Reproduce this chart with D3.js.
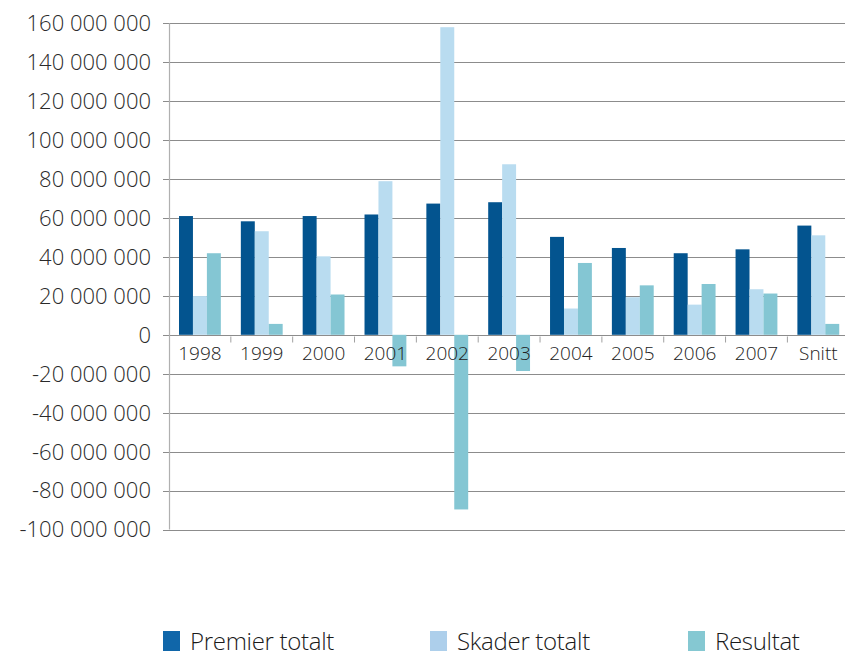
<!DOCTYPE html>
<html><head><meta charset="utf-8">
<script src="https://cdn.jsdelivr.net/npm/d3@7/dist/d3.min.js"></script>
<style>body{margin:0;background:#fff}svg{display:block}text{font-family:"Open Sans",sans-serif}</style>
</head><body><svg id="c" width="845" height="657"></svg>
<script>
const categories=["1998","1999","2000","2001","2002","2003","2004","2005","2006","2007","Snitt"];
const seriesNames=["Premier totalt","Skader totalt","Resultat"];
const premier=[61.0,58.3,61.0,61.8,67.4,68.1,50.3,44.6,41.9,43.9,56.1].map(v=>v*1e6);
const skader=[19.9,53.2,40.3,78.9,158.0,87.6,13.5,19.3,15.5,23.4,51.1].map(v=>v*1e6);
const resultat=[41.9,5.6,20.7,-16.2,-89.7,-18.6,36.9,25.4,26.1,21.2,5.6].map(v=>v*1e6);
const yTicks=[160e6,140e6,120e6,100e6,80e6,60e6,40e6,20e6,0,-20e6,-40e6,-60e6,-80e6,-100e6];
const barColors=["#03548F","#B9DCF0","#84C6D3"];
const legendColors=["#1066A9","#ADCFEB","#85C8D2"];

const svg=d3.select("#c");
const plotLeft=169, plotTop=23.3, plotBottom=529.5, bandW=61.84;
const y=d3.scaleLinear().domain([-100e6,160e6]).range([plotBottom,plotTop]);
const x0=d3.scaleBand().domain(categories).range([plotLeft,plotLeft+bandW*categories.length]).paddingInner(0).paddingOuter(0);
const x1=d3.scaleBand().domain(seriesNames).range([10,bandW-10]).padding(0);
const fmt=v=>{const s=d3.format(",")(Math.abs(v)).replace(/,/g," ");return (v<0?"-":"")+s;};

// gridlines
svg.append("g").selectAll("line").data(yTicks).join("line")
 .attr("x1",163).attr("x2",845).attr("y1",d=>Math.round(y(d))+0.5).attr("y2",d=>Math.round(y(d))+0.5)
 .attr("stroke","#8c8c8c").attr("stroke-width",1);
// y labels
svg.append("g").selectAll("text").data(yTicks).join("text")
 .attr("x",151).attr("y",d=>y(d)).attr("dy","0.36em").attr("text-anchor","end")
 .attr("font-size",22).attr("font-weight",300).attr("fill","#2a2a2a").text(fmt);
// vertical axis
svg.append("line").attr("x1",plotLeft+0.5).attr("x2",plotLeft+0.5).attr("y1",plotTop).attr("y2",plotBottom)
 .attr("stroke","#b0b0b0").attr("stroke-width",1.2);

const data=categories.map((c,i)=>({cat:c,vals:[premier[i],skader[i],resultat[i]]}));
const g=svg.append("g").selectAll("g").data(data).join("g").attr("transform",d=>`translate(${x0(d.cat)},0)`);
g.selectAll("rect").data(d=>d.vals.map((v,j)=>({v,j}))).join("rect")
 .attr("x",d=>x1(seriesNames[d.j])).attr("width",x1.bandwidth())
 .attr("y",d=>y(Math.max(0,d.v))).attr("height",d=>Math.abs(y(d.v)-y(0)))
 .attr("fill",d=>barColors[d.j]);

// category ticks
const y0=Math.round(y(0))+0.5;
svg.append("g").selectAll("line").data(categories.slice(1)).join("line")
 .attr("x1",d=>x0(d)).attr("x2",d=>x0(d)).attr("y1",y0+1).attr("y2",y0+7)
 .attr("stroke","#a0a0a0").attr("stroke-width",1);
// category labels
svg.append("g").selectAll("text").data(categories).join("text")
 .attr("x",d=>x0(d)+bandW/2).attr("y",359.5).attr("text-anchor","middle")
 .attr("font-size",19).attr("font-weight",300).attr("fill","#222").text(d=>d);

// legend
const legX=[163,430,688];
const lg=svg.append("g").selectAll("g").data(seriesNames).join("g");
lg.append("rect").attr("x",(d,i)=>legX[i]).attr("y",631).attr("width",17).attr("height",20).attr("fill",(d,i)=>legendColors[i]);
lg.append("text").attr("x",(d,i)=>legX[i]+27).attr("y",650).attr("font-size",24).attr("font-weight",300).attr("letter-spacing","-0.3").attr("fill","#1a1a1a").text(d=>d);
</script></body></html>
